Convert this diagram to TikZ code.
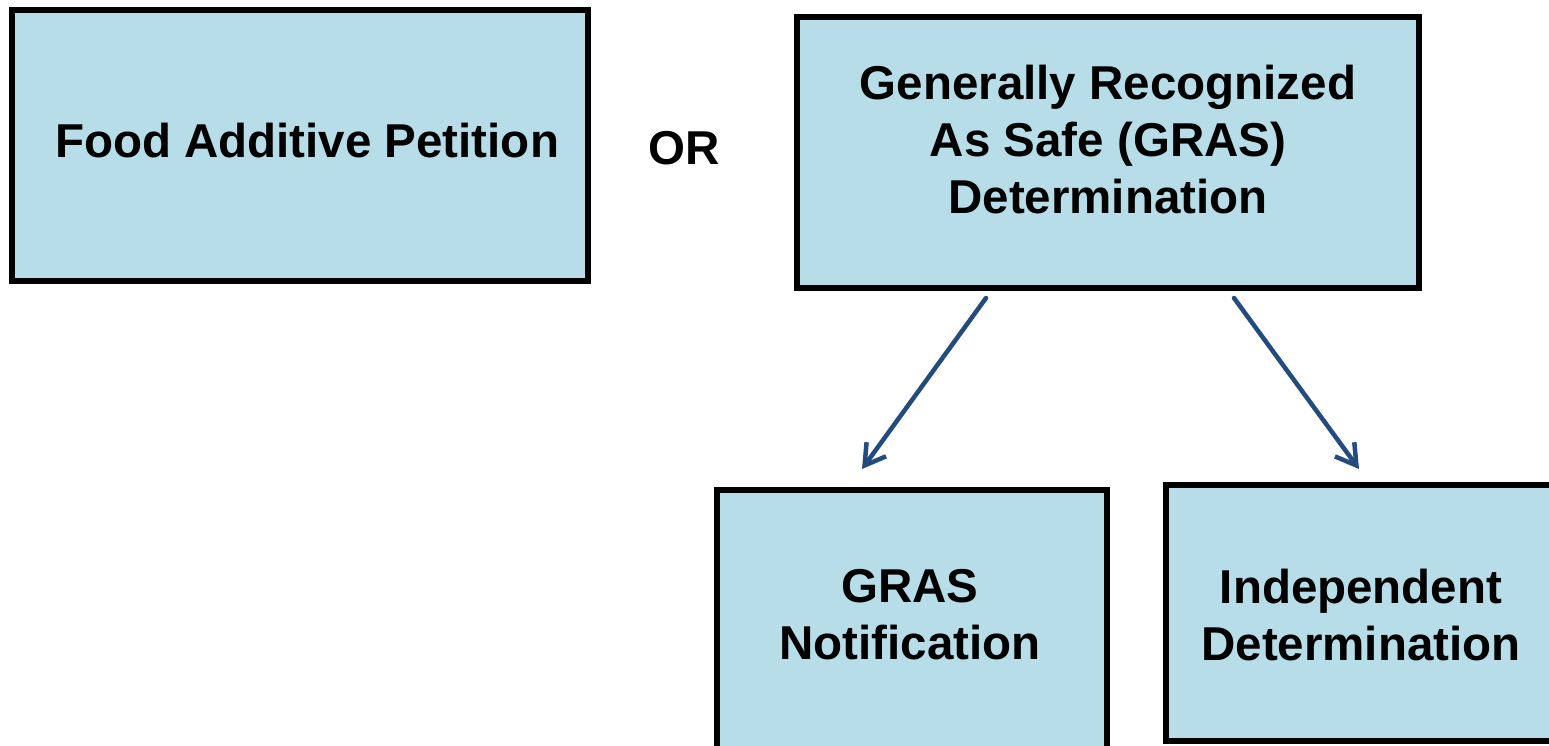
\documentclass[tikz,border=0pt]{standalone}
\usepackage{fontspec}
\setmainfont{Liberation Sans}
\usetikzlibrary{arrows.meta}
\definecolor{boxfill}{HTML}{B7DDE8}
\definecolor{arrowblue}{HTML}{234B7D}
\tikzset{
  box/.style={draw=black, line width=5.5pt, fill=boxfill, inner sep=0pt},
  lbl/.style={font=\bfseries\fontsize{47.5}{57}\selectfont, align=center, inner sep=0pt, text=black},
  arr/.style={draw=arrowblue, line width=4.5pt, line cap=round,
    -{Straight Barb[length=20pt, width=24pt, line width=4.5pt]}}
}
\begin{document}
\begin{tikzpicture}[x=1pt, y=-1pt]
\useasboundingbox (0,0) rectangle (1549,745);
\clip (0,0) rectangle (1549,745);
\node[box, minimum width=576pt, minimum height=271pt] (A) at (300,145.5) {};
\node[box, minimum width=622pt, minimum height=271pt] (B) at (1108,152.5) {};
\node[box, minimum width=390pt, minimum height=300pt] (C) at (912,640) {};
\node[box, minimum width=400pt, minimum height=256pt] (D) at (1366,613) {};
\node[lbl] (tA) at (307,141) {Food Additive Petition};
\node[lbl] (tOR) at (684,148) {OR};
\node[lbl] (tB) at (1108,140) {Generally Recognized\\As Safe (GRAS)\\Determination};
\node[lbl] (tC) at (910,615) {GRAS\\Notification};
\node[lbl] (tD) at (1361,615) {Independent\\Determination};
\coordinate (s1) at (986,298);
\coordinate (e1) at (862,469);
\coordinate (s2) at (1234,298);
\coordinate (e2) at (1359,469);
\draw[arr] (s1) -- (e1);
\draw[arr] (s2) -- (e2);
\end{tikzpicture}
\end{document}
